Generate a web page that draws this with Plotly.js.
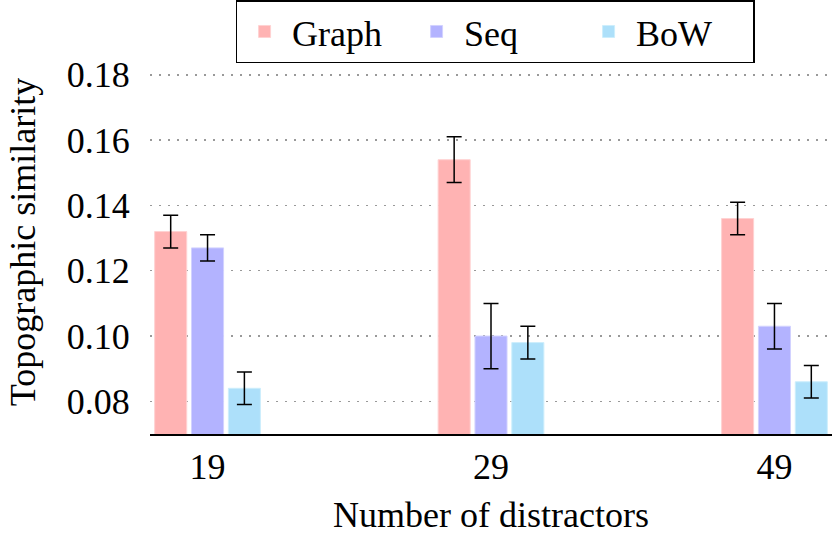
<!DOCTYPE html>
<html>
<head>
<meta charset="utf-8">
<script src="https://cdn.plot.ly/plotly-3.0.1.min.js"></script>
<style>html,body{margin:0;padding:0;background:#fff;}#chart{width:832px;height:538px;}</style>
</head>
<body>
<div id="chart"></div>
<script>
// Data
const categories = ["19", "29", "49"];
const seriesNames = ["Graph", "Seq", "BoW"];
const graphValues = [0.132, 0.154, 0.136];
const graphErrors = [0.005, 0.007, 0.005];
const seqValues = [0.127, 0.100, 0.103];
const seqErrors = [0.004, 0.010, 0.007];
const bowValues = [0.084, 0.098, 0.086];
const bowErrors = [0.005, 0.005, 0.005];
const yTickValues = [0.08, 0.10, 0.12, 0.14, 0.16, 0.18];
const yTickLabels = ["0.08", "0.10", "0.12", "0.14", "0.16", "0.18"];

const colors = ["#ffb3b3", "#b3b3ff", "#ade0fa"];
const edgeColors = ["#ffd2d2", "#d2d2ff", "#cdeefc"];
const allValues = [graphValues, seqValues, bowValues];
const allErrors = [graphErrors, seqErrors, bowErrors];

const FONT = "'Liberation Serif', 'Times New Roman', serif";
const FS = 36;

const traces = seriesNames.map((name, i) => ({
  type: "bar",
  name: name,
  x: categories,
  y: allValues[i],
  marker: {color: colors[i], line: {color: edgeColors[i], width: 1}},
  error_y: {type: "data", array: allErrors[i], visible: true, color: "#000", thickness: 1.5, width: 7.5}
}));

const layout = {
  width: 832,
  height: 538,
  margin: {l: 150, r: 0, t: 50, b: 104, pad: 0},
  paper_bgcolor: "#fff",
  plot_bgcolor: "#fff",
  font: {family: FONT, size: FS, color: "#000"},
  barmode: "group",
  bargap: 0.61,
  bargroupgap: 0.13,
  showlegend: true,
  legend: {
    orientation: "h",
    x: 0.506, xanchor: "center",
    y: 1.13, yanchor: "top",
    bordercolor: "#000", borderwidth: 1.5,
    bgcolor: "#fff",
    font: {family: FONT, size: FS, color: "#000"},
    itemwidth: 45,
    entrywidthmode: "pixels",
    entrywidth: 112
  },
  xaxis: {
    type: "category",
    range: [-0.203, 2.203],
    showline: true, linecolor: "#000", linewidth: 1.5,
    showgrid: false, zeroline: false,
    ticks: "", ticklen: 0,
    tickfont: {family: FONT, size: FS, color: "#000"},
    title: {text: "Number of distractors", font: {family: FONT, size: FS, color: "#000"}, standoff: 16}
  },
  yaxis: {
    range: [0.07, 0.1876],
    tickvals: yTickValues,
    ticktext: yTickLabels,
    showline: false, zeroline: false,
    showgrid: true, gridcolor: "#999", gridwidth: 1.5, griddash: "2px,7px",
    ticks: "outside", ticklen: 12, tickcolor: "rgba(0,0,0,0)",
    automargin: true,
    tickfont: {family: FONT, size: FS, color: "#000"},
    title: {text: "Topographic similarity", font: {family: FONT, size: FS, color: "#000"}, standoff: 20}
  }
};

Plotly.newPlot("chart", traces, layout, {staticPlot: true, displayModeBar: false});
</script>
</body>
</html>
